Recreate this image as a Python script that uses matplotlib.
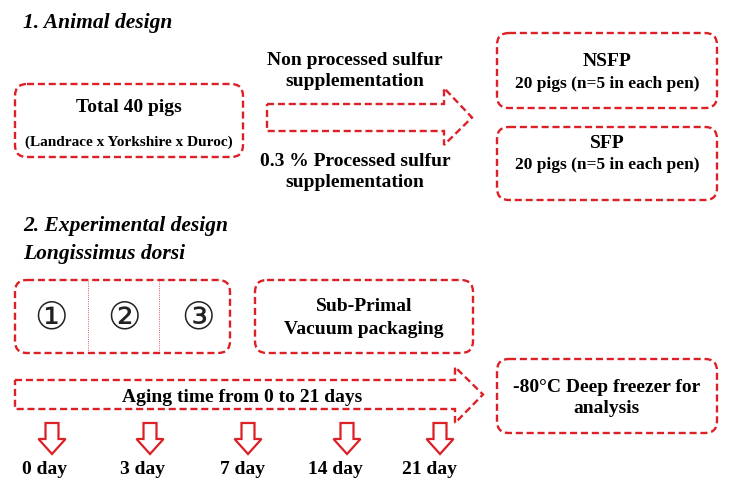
import matplotlib.pyplot as plt
from matplotlib.patches import FancyBboxPatch, Polygon

# Text content of the diagram
section_titles = ["1. Animal design", "2. Experimental design", "Longissimus dorsi"]
start_box = ["Total 40 pigs", "(Landrace x Yorkshire x Duroc)"]
treatment_top = "Non processed sulfur\nsupplementation"
treatment_bottom = "0.3 % Processed sulfur\nsupplementation"
groups = ["NSFP", "SFP"]
group_detail = "20 pigs (n=5 in each pen)"
sections = ["\u2460", "\u2461", "\u2462"]
packaging = "Sub-Primal\nVacuum packaging"
aging = "Aging time from 0 to 21 days"
freezer = "-80\u00b0C Deep freezer for\nanalysis"
days = ["0 day", "3 day", "7 day", "14 day", "21 day"]

RED = "#dd1f26"
SERIF = "Liberation Serif"

fig = plt.figure(figsize=(7.36, 4.88), dpi=100)
ax = fig.add_axes([0, 0, 1, 1])
ax.set_xlim(0, 736)
ax.set_ylim(488, 0)
ax.axis("off")

dash = (0, (3, 1.6))


def dbox(x0, y0, x1, y1, r=12):
    p = FancyBboxPatch((x0, y0), x1 - x0, y1 - y0,
                       boxstyle=f"round,pad=0,rounding_size={r}",
                       fill=False, ec=RED, lw=1.7, ls=dash)
    ax.add_patch(p)


def harrow(x0, x1, yt, yb, hx, ht, hb, tip):
    ym = (yt + yb) / 2
    pts = [(x0, yt), (hx, yt), (hx, ht), (tip, ym), (hx, hb), (hx, yb), (x0, yb)]
    ax.add_patch(Polygon(pts, closed=True, fill=False, ec=RED, lw=1.7, ls=dash))


def txt(x, y, s, size=14, style="normal", ha="center", **kw):
    ax.text(x, y, s, fontsize=size, family=SERIF, weight="bold", style=style,
            ha=ha, va="center", **kw)


# section 1
txt(23, 23, section_titles[0], size=15.5, style="italic", ha="left")
dbox(15, 84, 243, 157)
txt(129, 107, start_box[0], size=14)
txt(129, 142, start_box[1], size=11)

txt(355, 71, treatment_top, linespacing=1.35)
harrow(267, 444, 104, 131, 444, 88, 145, 472)
txt(355, 172, treatment_bottom, linespacing=1.35)

dbox(497, 33, 717, 108)
txt(607, 62, groups[0])
txt(607, 84, group_detail, size=12.5)
dbox(497, 127, 717, 200)
txt(607, 143, groups[1])
txt(607, 165, group_detail, size=12.5)

# section 2
txt(23, 226, section_titles[1], size=15.5, style="italic", ha="left")
txt(23, 254, section_titles[2], size=15.5, style="italic", ha="left")

dbox(15, 280, 230, 353)
for xd in (88, 159):
    ax.plot([xd, xd], [281, 352], color=RED, lw=0.6, ls=":")
for xc, s in zip((51, 124, 198), sections):
    ax.text(xc, 318, s, fontsize=27, family=["DejaVu Sans"], ha="center",
            va="center", color="#222222")

dbox(255, 280, 473, 353)
txt(364, 318, packaging, linespacing=1.4)

harrow(15, 455, 380, 409, 455, 367, 423, 483)
txt(242, 397, aging)

dbox(497, 359, 717, 433)
txt(607, 398, freezer, linespacing=1.3)

# down arrows with day labels
arrow_x = [52, 150, 248, 347, 440]
label_x = [45, 142, 243, 335, 429]
for xa, xl, d in zip(arrow_x, label_x, days):
    sw, hw = 6.5, 13.5
    pts = [(xa - sw, 423), (xa + sw, 423), (xa + sw, 439), (xa + hw, 439),
           (xa, 454), (xa - hw, 439), (xa - sw, 439)]
    ax.add_patch(Polygon(pts, closed=True, fill=False, ec=RED, lw=1.6))
    txt(xl, 470, d)

fig.savefig("out.png", dpi=100, facecolor="white")
